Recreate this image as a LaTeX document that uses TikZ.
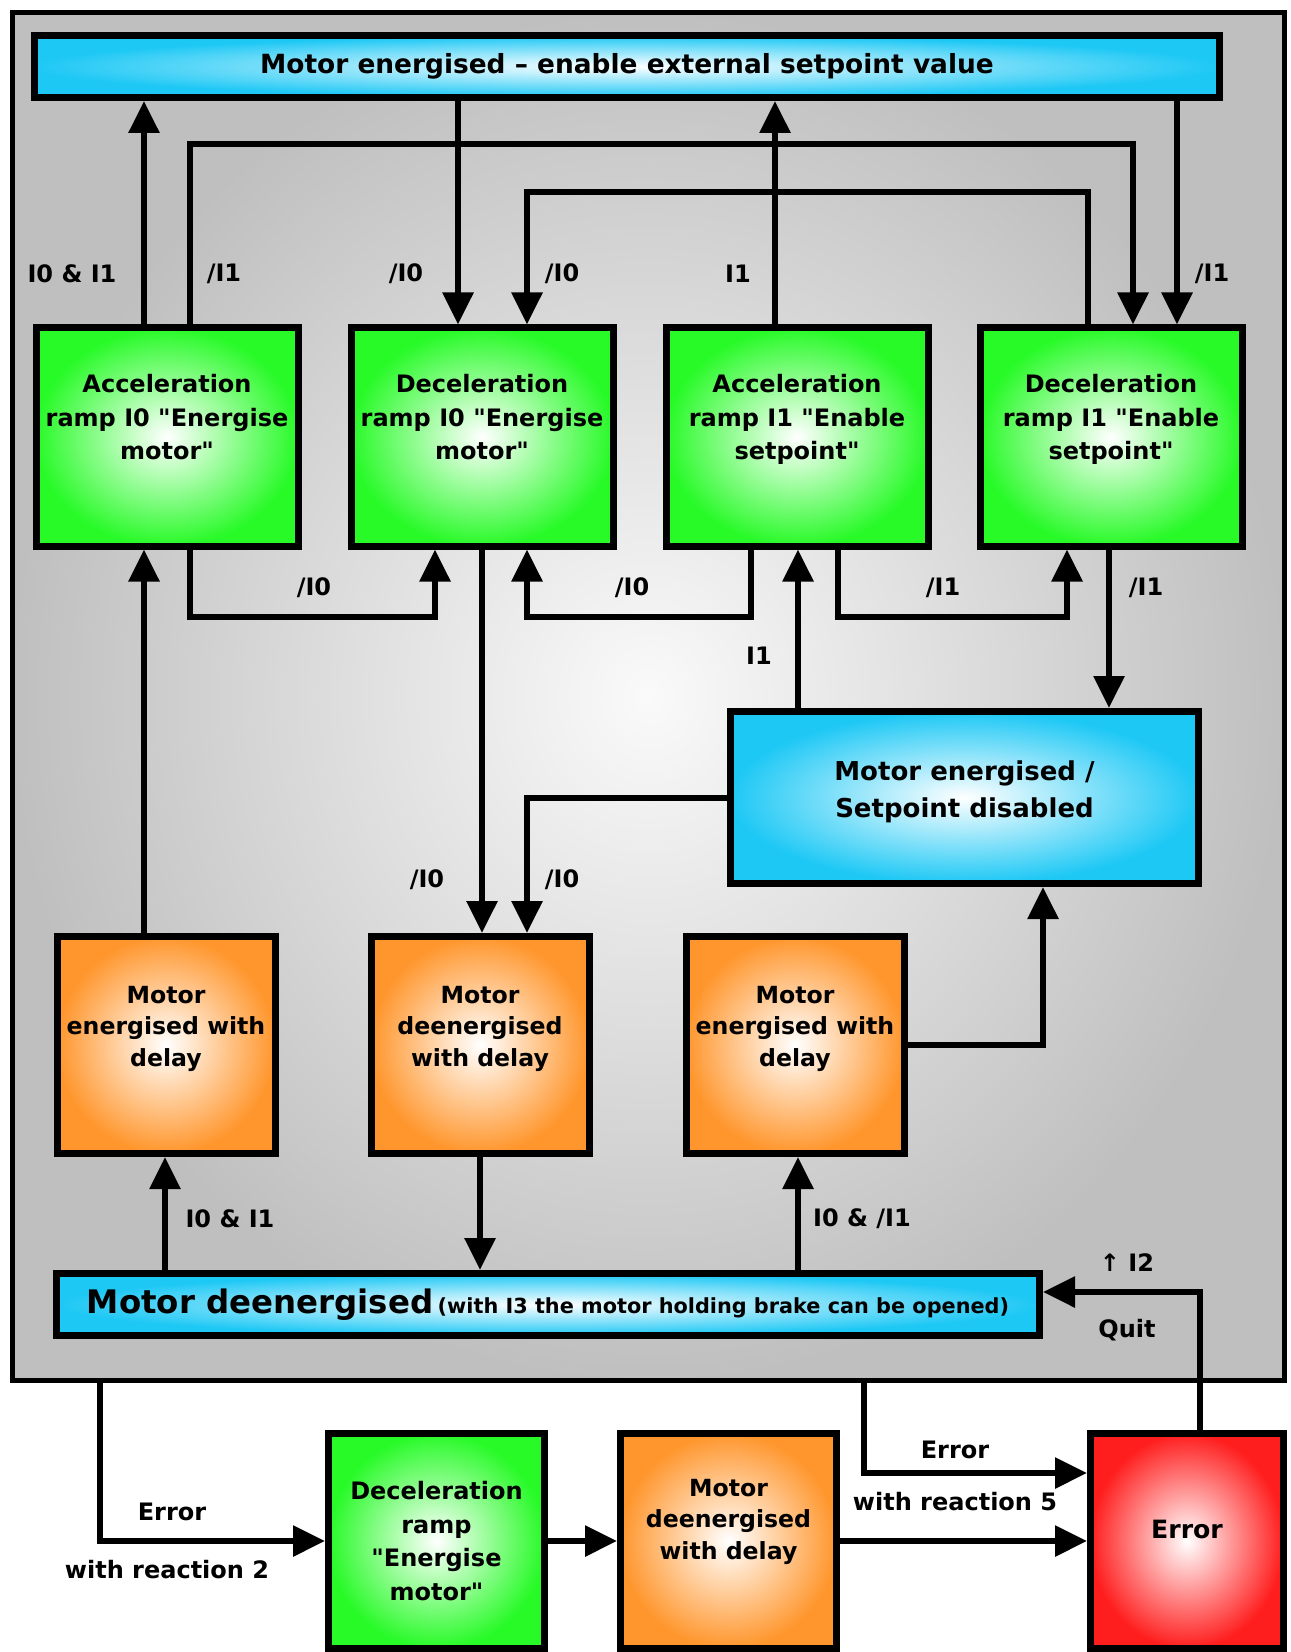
\documentclass[tikz,border=0pt]{standalone}
\usepackage{fontspec}
\setmainfont{DejaVu Sans}[Ligatures=TeXOff]
\usepackage{tikz}
\usetikzlibrary{arrows.meta}
\definecolor{rampgreen}{RGB}{40,250,40}
\definecolor{delayorange}{RGB}{255,150,45}
\definecolor{stateblue}{RGB}{30,200,245}
\definecolor{errred}{RGB}{255,30,30}

\begin{document}
\begin{tikzpicture}[x=0.5pt,y=-0.5pt,
  box/.style={draw,line width=3.5pt,inner sep=0pt,align=center,inner color=white},
  lift/.style={execute at end node={\rule[-#1]{0pt}{0pt}}},
  ramp/.style={box,outer color=rampgreen,minimum width=131pt,minimum height=109pt,font=\fontsize{12}{16.8}\selectfont\bfseries},
  delay/.style={box,outer color=delayorange,minimum width=109pt,minimum height=108.5pt,font=\fontsize{11.8}{15.8}\selectfont\bfseries},
  state/.style={box,outer color=stateblue,font=\fontsize{13}{18.5}\selectfont\bfseries},
  conn/.style={line width=3pt,-{Triangle[length=16pt,width=15pt]}},
  lbl/.style={font=\fontsize{12}{14}\selectfont\bfseries}]
\useasboundingbox (0,0) rectangle (1290,1652);

% grey frame round the normal states
\node[draw,line width=2.5pt,inner color=gray!4,outer color=gray!50,minimum width=636pt,minimum height=684pt] (frame) at (648.5,696.5) {};

\node[state,minimum width=592.5pt,minimum height=31pt,font=\fontsize{13.2}{16}\selectfont\bfseries] (tb) at (627,66.5) {Motor energised – enable external setpoint value};

% ramps
\foreach \n/\x/\txt in {g1/167/{Acceleration\\ramp I0 "Energise\\motor"},
    g2/482/{Deceleration\\ramp I0 "Energise\\motor"},
    g3/797/{Acceleration\\ramp I1 "Enable\\setpoint"},
    g4/1111/{Deceleration\\ramp I1 "Enable\\setpoint"}} {
    \node[ramp,lift=20pt] (\n) at (\x,437) {\txt};
}
% delays
\foreach \n/\x/\txt in {o1/166/{Motor\\energised with\\delay},
    o2/480/{Motor\\deenergised\\with delay},
    o3/795/{Motor\\energised with\\delay}} {
    \node[delay,lift=19pt] (\n) at (\x,1045) {\txt};
}
\node[state,minimum width=234pt,minimum height=86pt,lift=8pt] (mesd) at (964.5,797.5) {Motor energised /\\Setpoint disabled};
\node[state,minimum width=491.5pt,minimum height=31pt] (bb) at (548,1304.5) {{\fontsize{16.2}{18}\selectfont Motor deenergised}\,{\fontsize{10.4}{12}\selectfont(with I3 the motor holding brake can be opened)}};

% error path
\node[ramp,minimum width=108pt,minimum height=107.5pt] (g5) at (436.5,1541) {Deceleration\\ramp\\"Energise\\motor"};
\node[delay,minimum width=108pt,minimum height=107.5pt,lift=22pt] (o4) at (728.5,1541) {Motor\\deenergised\\with delay};
\node[box,outer color=errred,minimum width=96.5pt,minimum height=107.5pt,lift=12pt,font=\fontsize{12.6}{15}\selectfont\bfseries] (er) at (1187,1541) {Error};

% upper connectors
\draw[conn] (g1.north -| 144,0) -- (tb.south -| 144,0);
\draw[conn] (g1.north -| 190,0) -- (190,144) -| (g4.north -| 1133,0);
\draw[conn] (tb.south -| 458,0) -- (g2.north -| 458,0);
\draw[conn] (g4.north -| 1088,0) -- (1088,192) -| (g2.north -| 527,0);
\draw[conn] (g3.north -| 775,0) -- (tb.south -| 775,0);
\draw[conn] (tb.south -| 1177,0) -- (g4.north -| 1177,0);

\draw[conn] (g1.south -| 190,0) -- (190,617) -| (g2.south -| 435,0);
\draw[conn] (g3.south -| 751,0) -- (751,617) -| (g2.south -| 527,0);
\draw[conn] (g3.south -| 838,0) -- (838,617) -| (g4.south -| 1067,0);
\draw[conn] (g4.south -| 1109,0) -- (mesd.north -| 1109,0);
\draw[conn] (mesd.north -| 798,0) -- (g3.south -| 798,0);
\draw[conn] (g2.south) -- (o2.north -| g2.south);
\draw[conn] (mesd.west) -| (o2.north -| 527,0);
\draw[conn] (o1.north -| 144,0) -- (g1.south -| 144,0);
\draw[conn] (o3.east) -| (mesd.south -| 1043,0);

% lower connectors
\draw[conn] (bb.north -| 165,0) -- (o1.south -| 165,0);
\draw[conn] (o2.south) -- (bb.north -| o2.south);
\draw[conn] (bb.north -| 798,0) -- (o3.south -| 798,0);
\draw[conn] (er.north -| 1200,0) |- (bb.east |- 0,1292);
\draw[conn] (frame.south -| 100,0) |- (g5.west);
\draw[conn] (g5.east) -- (o4.west);
\draw[conn] (o4.east) -- (er.west);
\draw[conn] (frame.south -| 864,0) |- (er.west |- 0,1473);

% conditions
\node[lbl] (c1) at (72,274) {I0 \& I1};
\node[lbl] (c2) at (224,274) {/I1};
\node[lbl] (c3) at (406,274) {/I0};
\node[lbl] (c4) at (562,274) {/I0};
\node[lbl] (c5) at (738,274) {I1};
\node[lbl] (c6) at (1212,274) {/I1};
\node[lbl] (c7) at (314,588) {/I0};
\node[lbl] (c8) at (632,588) {/I0};
\node[lbl] (c9) at (943,588) {/I1};
\node[lbl] (c10) at (1146,588) {/I1};
\node[lbl] (c11) at (759,656) {I1};
\node[lbl] (c12) at (427,880) {/I0};
\node[lbl] (c13) at (562,880) {/I0};
\node[lbl] (c14) at (230,1219) {I0 \& I1};
\node[lbl] (c15) at (862,1219) {I0 \& /I1};
\node[lbl] (c16) at (1127,1263) {↑ I2};
\node[lbl] (c17) at (1127,1330) {Quit};
\node[lbl] (c18) at (172,1512) {Error};
\node[lbl] (c19) at (167,1570) {with reaction 2};
\node[lbl] (c20) at (955,1450) {Error};
\node[lbl] (c21) at (955,1502) {with reaction 5};
\end{tikzpicture}
\end{document}
